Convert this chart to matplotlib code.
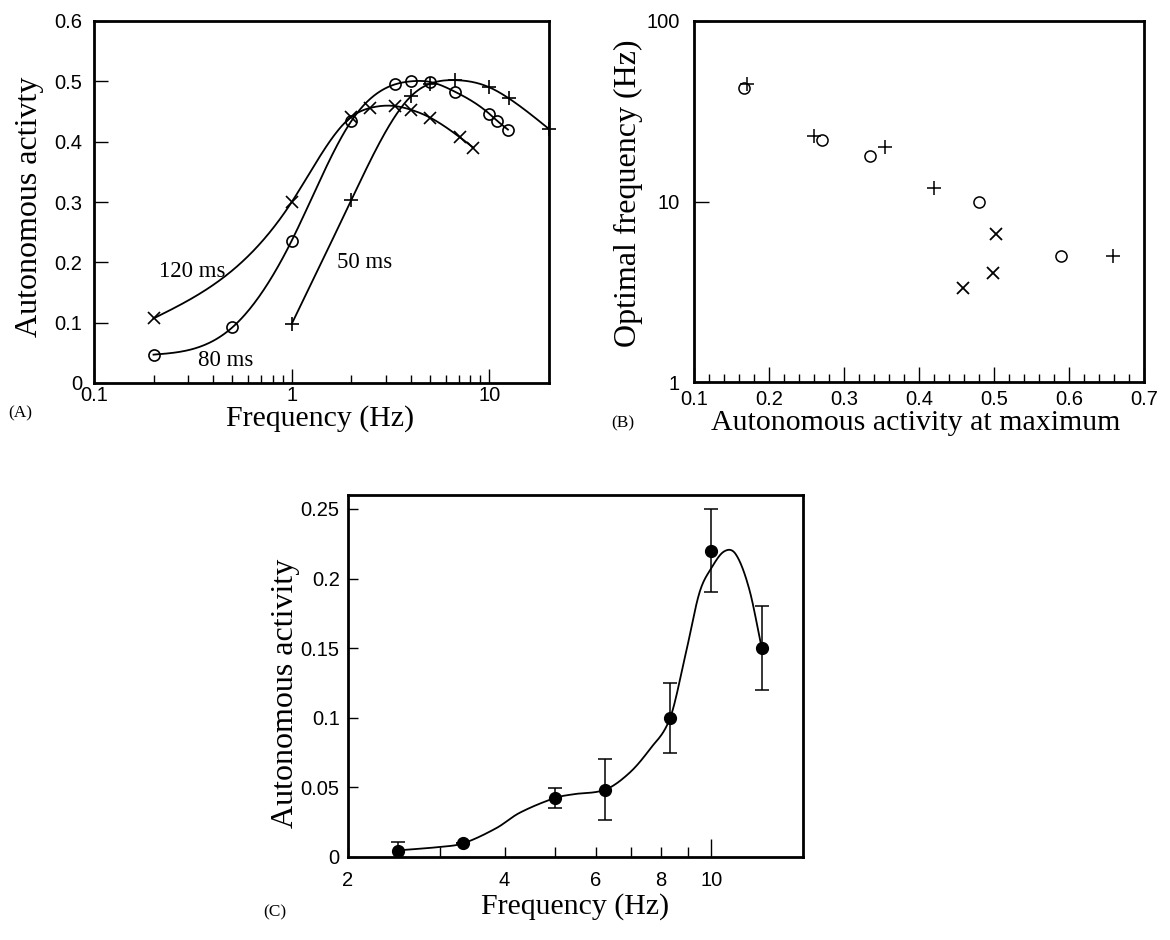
import numpy as np
import matplotlib
matplotlib.use("Agg")
import matplotlib.pyplot as plt
from matplotlib.ticker import FixedLocator, NullLocator, NullFormatter

# ---------------- data ----------------
# Panel A: autonomous activity vs stimulation frequency for three durations
a120_freq = [0.2, 1.0, 2.0, 2.5, 3.33, 4.0, 5.0, 7.1, 8.3]
a120_val = [0.107, 0.300, 0.441, 0.456, 0.459, 0.453, 0.440, 0.407, 0.390]
a80_freq = [0.2, 0.5, 1.0, 2.0, 3.33, 4.0, 5.0, 6.67, 10.0, 10.9, 12.4]
a80_val = [0.047, 0.092, 0.236, 0.434, 0.495, 0.500, 0.499, 0.483, 0.446, 0.435, 0.420]
a50_freq = [1.0, 2.0, 4.0, 5.0, 6.67, 10.0, 12.5, 20.0]
a50_val = [0.098, 0.303, 0.475, 0.496, 0.502, 0.490, 0.472, 0.421]
a_labels = ["120 ms", "80 ms", "50 ms"]

# Panel B: optimal frequency vs autonomous activity at maximum
b_circ_x = [0.166, 0.270, 0.335, 0.480, 0.589]
b_circ_y = [42.7, 22.0, 17.8, 9.9, 5.0]
b_plus_x = [0.171, 0.260, 0.355, 0.420, 0.659]
b_plus_y = [45.0, 23.0, 20.0, 11.9, 5.0]
b_x_x = [0.503, 0.499, 0.458]
b_x_y = [6.6, 4.0, 3.33]

# Panel C: autonomous activity vs frequency with error bars
c_freq = [2.5, 3.33, 5.0, 6.25, 8.33, 10.0, 12.5]
c_val = [0.0045, 0.0098, 0.0424, 0.0484, 0.100, 0.220, 0.150]
c_err = [0.006, 0.0, 0.007, 0.022, 0.025, 0.030, 0.030]
# fitted curve of panel C
c_curve_freq = [2.5, 3.0, 3.33, 3.86, 4.27, 5.0, 5.41, 6.25, 6.95, 7.6, 8.33,
                8.93, 9.48, 10.0, 10.59, 11.15, 11.83, 12.5]
c_curve_val = [0.0048, 0.0072, 0.0098, 0.0208, 0.0316, 0.0424, 0.045, 0.0484,
               0.0603, 0.0771, 0.100, 0.1466, 0.1897, 0.2076, 0.2196, 0.2172,
               0.192, 0.1497]


def natural_spline(x, y, xs):
    x = np.asarray(x, float)
    y = np.asarray(y, float)
    n = len(x)
    h = np.diff(x)
    A = np.zeros((n, n))
    r = np.zeros(n)
    A[0, 0] = A[-1, -1] = 1.0
    for i in range(1, n - 1):
        A[i, i - 1] = h[i - 1]
        A[i, i] = 2 * (h[i - 1] + h[i])
        A[i, i + 1] = h[i]
        r[i] = 3 * ((y[i + 1] - y[i]) / h[i] - (y[i] - y[i - 1]) / h[i - 1])
    c = np.linalg.solve(A, r)
    b = (y[1:] - y[:-1]) / h - h * (2 * c[:-1] + c[1:]) / 3
    d = (c[1:] - c[:-1]) / (3 * h)
    idx = np.clip(np.searchsorted(x, xs) - 1, 0, n - 2)
    dx = xs - x[idx]
    return y[idx] + b[idx] * dx + c[idx] * dx ** 2 + d[idx] * dx ** 3


def catmull(x, y, xs):
    """Cubic Hermite curve with centred-difference tangents."""
    x = np.asarray(x, float)
    y = np.asarray(y, float)
    n = len(x)
    h = np.diff(x)
    m = np.zeros(n)
    m[1:-1] = (y[2:] - y[:-2]) / (x[2:] - x[:-2])
    m[0] = (y[1] - y[0]) / h[0]
    m[-1] = (y[-1] - y[-2]) / h[-1]
    idx = np.clip(np.searchsorted(x, xs) - 1, 0, n - 2)
    t = (xs - x[idx]) / h[idx]
    h00 = 2 * t ** 3 - 3 * t ** 2 + 1
    h10 = t ** 3 - 2 * t ** 2 + t
    h01 = -2 * t ** 3 + 3 * t ** 2
    h11 = t ** 3 - t ** 2
    return h00 * y[idx] + h10 * h[idx] * m[idx] + h01 * y[idx + 1] + h11 * h[idx] * m[idx + 1]


def smooth_log(fx, fy, n=300, method=natural_spline):
    lx = np.log10(fx)
    xs = np.linspace(lx[0], lx[-1], n)
    return 10 ** xs, method(lx, fy, xs)


SERIF = "Liberation Serif"
SANS = "Liberation Sans"
plt.rcParams["font.family"] = SANS
plt.rcParams["axes.linewidth"] = 2.0

W, H = 1170, 940
fig = plt.figure(figsize=(W / 100, H / 100), dpi=100)


def frac_axes(x0, y0, x1, y1):
    return fig.add_axes([x0 / W, 1 - y1 / H, (x1 - x0) / W, (y1 - y0) / H])


TICK_FS = 14.5
LAB_FS = 21.5
VLAB_FS = 23
PANEL_FS = 12.5

# ---------------- Panel A ----------------
axA = frac_axes(94, 21, 549, 383)
axA.set_xscale("log")
axA.set_xlim(0.1, 20)
axA.set_ylim(0, 0.6)
for fx, fy, mk, ms in [(a120_freq, a120_val, "x", 9),
                       (a80_freq, a80_val, "o", 8),
                       (a50_freq, a50_val, "+", 10)]:
    sx, sy = smooth_log(fx, fy)
    axA.plot(sx, sy, color="black", lw=1.3)
    axA.plot(fx, fy, ls="none", marker=mk, ms=ms, mfc="none" if mk == "o" else "black",
             mec="black", mew=1.2, clip_on=False)
axA.set_yticks([0, 0.1, 0.2, 0.3, 0.4, 0.5, 0.6])
axA.set_yticklabels(["0", "0.1", "0.2", "0.3", "0.4", "0.5", "0.6"])
axA.set_xticks([0.1, 1, 10])
axA.set_xticklabels(["0.1", "1", "10"])
axA.xaxis.set_minor_locator(FixedLocator([k * m for m in (0.1, 1, 10) for k in range(2, 10) if k * m < 20]))
axA.xaxis.set_minor_formatter(NullFormatter())
axA.tick_params(which="major", direction="in", length=10, width=1, labelsize=TICK_FS, pad=8.5)
axA.tick_params(which="minor", direction="in", length=6, width=1)
axA.tick_params(axis="x", which="major", pad=2.5)
axA.text(0.3126, 0.184, a_labels[0], fontfamily=SERIF, fontsize=16.5, ha="center", va="center")
axA.text(0.464, 0.038, a_labels[1], fontfamily=SERIF, fontsize=16.5, ha="center", va="center")
axA.text(2.34, 0.200, a_labels[2], fontfamily=SERIF, fontsize=16.5, ha="center", va="center")
fig.text(320 / W, 1 - 419 / H, "Frequency (Hz)", fontfamily=SERIF, fontsize=LAB_FS, ha="center", va="center")
fig.text(30 / W, 1 - 207 / H, "Autonomous activty", fontfamily=SERIF, fontsize=VLAB_FS,
         ha="center", va="center", rotation=90)
fig.text(20 / W, 1 - 413 / H, "(A)", fontfamily=SERIF, fontsize=PANEL_FS, ha="center", va="center")

# ---------------- Panel B ----------------
axB = frac_axes(694, 21, 1144, 382)
axB.set_yscale("log")
axB.set_xlim(0.1, 0.7)
axB.set_ylim(1, 100)
axB.plot(b_circ_x, b_circ_y, ls="none", marker="o", ms=8, mfc="none", mec="black", mew=1.1)
axB.plot(b_plus_x, b_plus_y, ls="none", marker="+", ms=10, mec="black", mew=1.1)
axB.plot(b_x_x, b_x_y, ls="none", marker="x", ms=8, mec="black", mew=1.3)
axB.set_xticks([0.1, 0.2, 0.3, 0.4, 0.5, 0.6, 0.7])
axB.set_xticklabels(["0.1", "0.2", "0.3", "0.4", "0.5", "0.6", "0.7"])
axB.xaxis.set_minor_locator(FixedLocator(np.arange(0.12, 0.7, 0.02)))
axB.set_yticks([1, 10, 100])
axB.set_yticklabels(["1", "10", "100"])
axB.yaxis.set_minor_locator(NullLocator())
axB.tick_params(which="major", direction="in", length=11, width=1, labelsize=TICK_FS, pad=10)
axB.tick_params(which="minor", direction="in", length=6, width=1)
axB.tick_params(axis="x", which="major", pad=5.5)
fig.text(916 / W, 1 - 423 / H, "Autonomous activity at maximum", fontfamily=SERIF, fontsize=LAB_FS,
         ha="center", va="center")
fig.text(628 / W, 1 - 193 / H, "Optimal frequency (Hz)", fontfamily=SERIF, fontsize=VLAB_FS,
         ha="center", va="center", rotation=90)
fig.text(623 / W, 1 - 423 / H, "(B)", fontfamily=SERIF, fontsize=PANEL_FS, ha="center", va="center")

# ---------------- Panel C ----------------
axC = frac_axes(348, 495, 803, 857)
axC.set_xscale("log")
axC.set_xlim(2, 15)
axC.set_ylim(0, 0.26)
sx, sy = smooth_log(c_curve_freq, c_curve_val, 400, method=catmull)
axC.plot(sx, sy, color="black", lw=1.3)
axC.errorbar(c_freq, c_val, yerr=c_err, fmt="o", color="black", ms=8.5, elinewidth=1.1,
             capsize=5, capthick=1.1)
axC.xaxis.set_minor_locator(NullLocator())
axC.set_xticks([2, 3, 4, 5, 6, 7, 8, 9, 10])
axC.set_xticklabels(["2", "", "4", "", "6", "", "8", "", "10"])
axC.set_yticks([0, 0.05, 0.1, 0.15, 0.2, 0.25])
axC.set_yticklabels(["0", "0.05", "0.1", "0.15", "0.2", "0.25"])
axC.tick_params(which="major", direction="in", length=7, width=1, labelsize=TICK_FS, pad=6)
axC.tick_params(axis="x", which="major", pad=10)
for t, v in zip(axC.xaxis.get_major_ticks(), [2, 3, 4, 5, 6, 7, 8, 9, 10]):
    if v == 10:
        t.tick1line.set_markersize(13)
fig.text(575 / W, 1 - 907 / H, "Frequency (Hz)", fontfamily=SERIF, fontsize=LAB_FS, ha="center", va="center")
fig.text(285 / W, 1 - 693 / H, "Autonomous activity", fontfamily=SERIF, fontsize=VLAB_FS,
         ha="center", va="center", rotation=90)
fig.text(275 / W, 1 - 912 / H, "(C)", fontfamily=SERIF, fontsize=PANEL_FS, ha="center", va="center")

fig.savefig("out.png", dpi=100)
